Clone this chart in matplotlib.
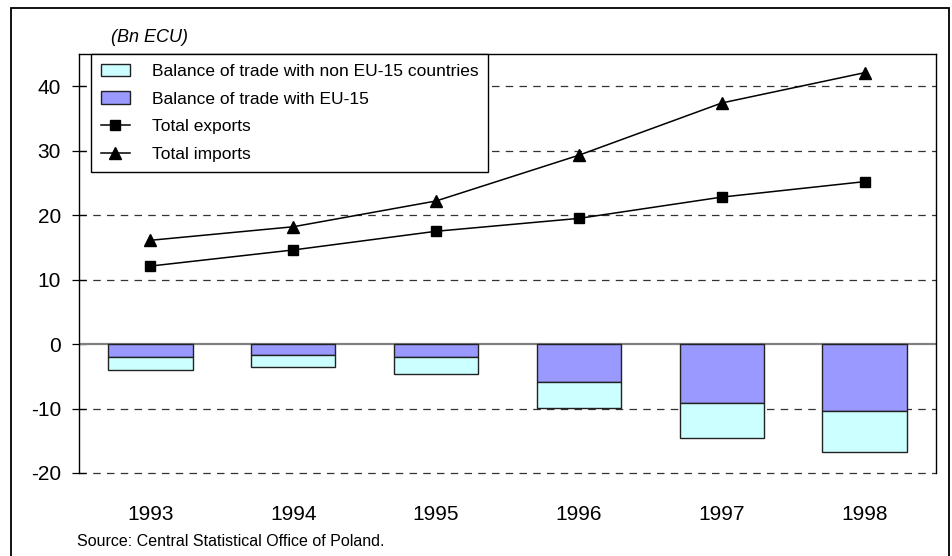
import matplotlib
matplotlib.use("Agg")
import matplotlib.pyplot as plt
from matplotlib.patches import Patch, Rectangle
from matplotlib.lines import Line2D
import numpy as np

plt.rcParams['font.family'] = ['Liberation Sans', 'DejaVu Sans']
plt.rcParams['axes.unicode_minus'] = False

# Data (Bn ECU)
years = ['1993', '1994', '1995', '1996', '1997', '1998']
exports = [12.1, 14.6, 17.5, 19.5, 22.8, 25.2]
imports = [16.1, 18.2, 22.2, 29.3, 37.4, 42.1]
balance_eu15 = [-2.0, -1.7, -2.0, -5.9, -9.2, -10.4]
balance_non_eu15 = [-2.0, -1.9, -2.7, -4.0, -5.4, -6.4]

W, H = 953, 556
fig = plt.figure(figsize=(W / 100, H / 100), dpi=100)
ax = fig.add_axes([79 / W, 1 - 473 / H, (936 - 79) / W, (473 - 54) / H])

x = np.arange(len(years))
purple = '#9999FF'
cyan = '#CCFFFF'

# grid lines
for v in [-20, -10, 10, 20, 30, 40]:
    ax.axhline(v, color='#333333', lw=0.9, ls=(0, (6, 5)), zorder=1, clip_on=False)
ax.axhline(0, color='#808080', lw=1.6, zorder=2)

ax.bar(x, balance_eu15, width=0.59, color=purple, edgecolor='#222222', lw=1.0, zorder=3)
ax.bar(x, balance_non_eu15, width=0.59, bottom=balance_eu15, color=cyan,
       edgecolor='#222222', lw=1.0, zorder=3)

ax.plot(x, exports, color='black', lw=1.1, marker='s', markersize=7.5, zorder=4)
ax.plot(x, imports, color='black', lw=1.1, marker='^', markersize=9, zorder=4)

ax.set_xlim(-0.5, len(years) - 0.5)
ax.set_ylim(-20, 45)
ax.set_yticks([-20, -10, 0, 10, 20, 30, 40])
ax.set_xticks(x)
ax.set_xticklabels(years)
ax.tick_params(axis='y', direction='inout', length=10, width=0.9, pad=8, labelsize=15)
ax.tick_params(axis='x', length=0, pad=23, labelsize=15)
for s in ['left', 'right', 'top']:
    ax.spines[s].set_linewidth(1.0)
    ax.spines[s].set_color('black')
ax.spines['bottom'].set_visible(False)

handles = [
    Patch(facecolor=cyan, edgecolor='#222222', lw=1.0),
    Patch(facecolor=purple, edgecolor='#222222', lw=1.0),
    Line2D([], [], color='black', lw=1.1, marker='s', markersize=7.5),
    Line2D([], [], color='black', lw=1.1, marker='^', markersize=9),
]
labels = ['Balance of trade with non EU-15 countries', 'Balance of trade with EU-15',
          'Total exports', 'Total imports']
leg = fig.legend(handles, labels, loc='upper left', bbox_to_anchor=(91 / W, 1 - 54 / H),
                 borderaxespad=0, fontsize=12.5, frameon=True, fancybox=False,
                 edgecolor='black', framealpha=1, handlelength=1.72, handletextpad=1.26,
                 labelspacing=0.73, borderpad=0.55)
leg.get_frame().set_linewidth(1.0)

fig.text(111 / W, 1 - 37 / H, '(Bn ECU)', fontsize=13, style='italic', va='center')
fig.text(77 / W, 1 - 542 / H, 'Source: Central Statistical Office of Poland.',
         fontsize=11.5, va='center')

fig.patches.append(Rectangle((11 / W, -0.05), (949 - 11) / W, 1.05 - 8 / H,
                             transform=fig.transFigure, fill=False, edgecolor='black',
                             lw=1.3))

fig.savefig('out.png', dpi=100)
